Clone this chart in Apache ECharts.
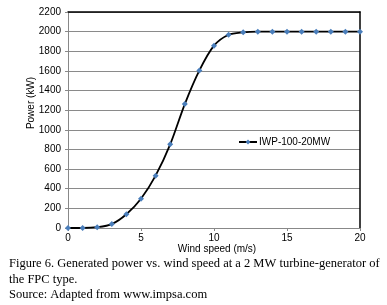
<!DOCTYPE html>
<html><head><meta charset="utf-8">
<script src="https://cdn.jsdelivr.net/npm/echarts@6/dist/echarts.min.js"></script>
<style>html,body{margin:0;padding:0;background:#fff}#c{width:387px;height:305px}</style>
</head><body><div id="c"></div>
<script>
const windSpeed = [0,1,2,3,4,5,6,7,8,9,10,11,12,13,14,15,16,17,18,19,20];
const power = [0,0,8,40,140,298,533,852,1262,1605,1857,1968,1993,2000,2000,2000,2000,2000,2000,2000,2000];
const seriesName = 'IWP-100-20MW';
const xTitle = 'Wind speed (m/s)';
const yTitle = 'Power (kW)';
const captionLines = [
  'Figure 6. Generated power vs. wind speed at a 2 MW turbine-generator of',
  'the FPC type.',
  'Source: Adapted from www.impsa.com'
];

const chart = echarts.init(document.getElementById('c'), null, {renderer:'canvas'});
const labelFont = {fontFamily:'Liberation Sans, Arial, sans-serif', fontSize:10, color:'#000'};
const sans = '"Liberation Sans", Arial, sans-serif';
const serif = '"Liberation Serif", "Times New Roman", serif';
chart.setOption({
  animation:false,
  grid:{left:68, right:27, top:12, bottom:77},
  legend:{
    data:[seriesName], left:233, top:132, itemWidth:18, itemHeight:6, itemGap:2,
    textStyle:{fontFamily:'Liberation Sans, Arial, sans-serif', fontSize:10, color:'#000', padding:[0,0,0,-3]}
  },
  xAxis:[{
    type:'value', min:0, max:20, interval:5,
    axisLine:{lineStyle:{color:'#888', width:1}},
    axisTick:{show:true, length:3, lineStyle:{color:'#888'}},
    axisLabel:{...labelFont, margin:5, formatter:v=>String(v)},
    splitLine:{show:false}
  },{
    type:'value', position:'top', min:0, max:20, interval:5,
    axisLine:{show:true, onZero:false, lineStyle:{color:'#000', width:1.5}},
    axisTick:{show:false}, axisLabel:{show:false}, splitLine:{show:false}
  }],
  yAxis:[{
    type:'value', min:0, max:2200, interval:200,
    axisLine:{show:true, lineStyle:{color:'#888', width:1}},
    axisTick:{show:true, length:3, lineStyle:{color:'#888'}},
    axisLabel:{...labelFont, margin:7, formatter:v=>String(v)},
    splitLine:{show:true, lineStyle:{color:'#8a8a8a', width:1.2}}
  },{
    type:'value', position:'right', min:0, max:2200, interval:200,
    axisLine:{show:true, onZero:false, lineStyle:{color:'#000', width:1.5}},
    axisTick:{show:false}, axisLabel:{show:false}, splitLine:{show:false}
  }],
  series:[{
    name:seriesName, type:'line',
    data: windSpeed.map((x,i)=>[x, power[i]]),
    smooth:0.3,
    symbol:'diamond', symbolSize:6,
    lineStyle:{color:'#000', width:1.8},
    itemStyle:{color:'#4A7EBB'}
  }],
  graphic:[
    {type:'text', x:217, y:249, style:{text:xTitle, font:'10px '+sans, fill:'#000', textAlign:'center', textVerticalAlign:'middle'}},
    {type:'text', x:31, y:103, rotation:Math.PI/2, style:{text:yTitle, font:'10px '+sans, fill:'#000', textAlign:'center', textVerticalAlign:'middle'}},
    {type:'text', x:9, y:257, style:{text:captionLines[0], font:'12.5px '+serif, fill:'#000'}},
    {type:'text', x:9, y:273, style:{text:captionLines[1], font:'12.5px '+serif, fill:'#000'}},
    {type:'text', x:9, y:288, style:{text:captionLines[2], font:'12.5px '+serif, fill:'#000'}}
  ]
});
</script></body></html>
